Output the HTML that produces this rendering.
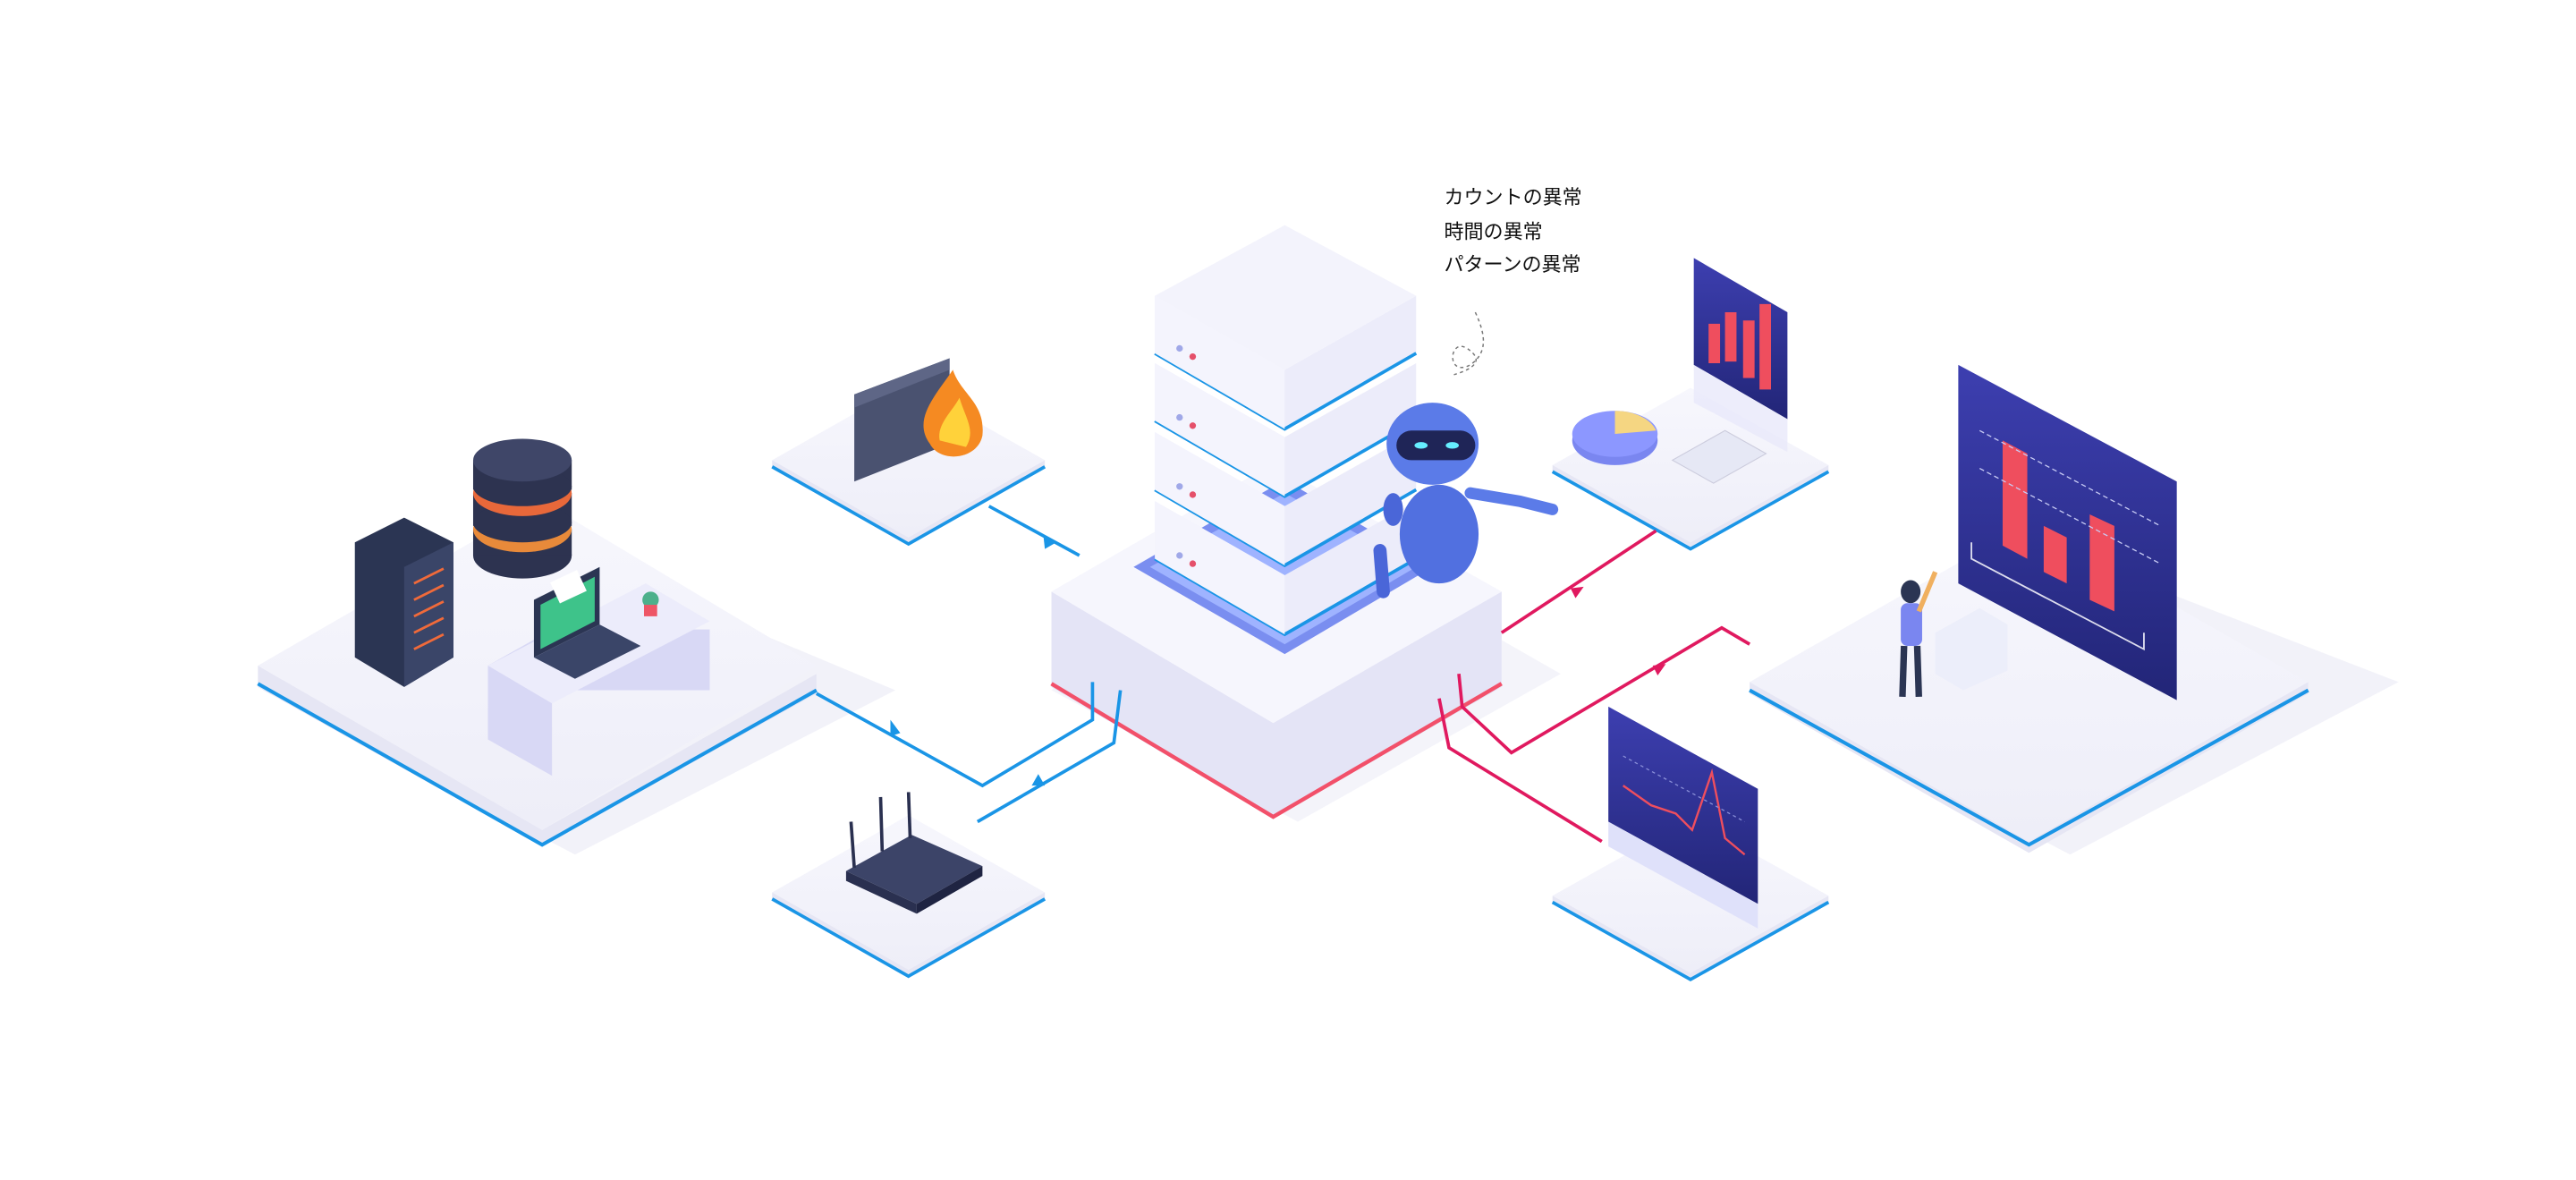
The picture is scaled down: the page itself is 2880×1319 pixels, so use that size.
<!DOCTYPE html>
<html><head><meta charset="utf-8">
<style>
html,body{margin:0;padding:0;background:#fff;width:2880px;height:1319px;overflow:hidden}
svg{display:block}
text{font-family:"Liberation Sans","Noto Sans CJK JP",sans-serif;fill:#111}
</style></head><body>
<svg width="2880" height="1319" viewBox="0 0 1568 718" preserveAspectRatio="none" xmlns="http://www.w3.org/2000/svg">
<defs>
<linearGradient id="top" x1="0" y1="0" x2="0" y2="1"><stop offset="0" stop-color="#f7f7fd"/><stop offset="1" stop-color="#eeeef8"/></linearGradient>
<linearGradient id="scr" x1="0" y1="0" x2="0" y2="1"><stop offset="0" stop-color="#3d3fb0"/><stop offset="1" stop-color="#222577"/></linearGradient>
</defs>
<!-- shadows -->
<path d="M330 330 L545 420 L350 520 L160 420Z" fill="#ededf7" opacity=".7"/>
<path d="M1240 330 L1460 415 L1260 520 L1070 420Z" fill="#ededf7" opacity=".7"/>
<path d="M775 310 L950 410 L790 500 L640 420Z" fill="#ededf7" opacity=".6"/>

<!-- Left big platform -->
<path d="M157 405 L330 505 L497 410 L497 422 L330 515 L157 418Z" fill="#e6e6f4"/>
<path d="M157 405 L330 305 L497 405 L330 505Z" fill="url(#top)"/>
<path d="M157 416 L330 514 L497 420" fill="none" stroke="#1a95e6" stroke-width="2.2"/>
<!-- desk -->
<path d="M297 405 L336 383 L432 383 L432 420 L336 420 L336 472 L297 450Z" fill="#d8d8f5"/>
<path d="M297 405 L393 355 L432 378 L336 428Z" fill="#ececfb"/>
<!-- server rack -->
<path d="M216 330 L246 315 L276 330 L276 400 L246 418 L216 400Z" fill="#2b3553"/>
<path d="M246 345 L276 330 L276 400 L246 418Z" fill="#3a4568"/>
<g stroke="#f06a3a" stroke-width="1.5"><line x1="252" y1="355" x2="270" y2="346"/><line x1="252" y1="365" x2="270" y2="356"/><line x1="252" y1="375" x2="270" y2="366"/><line x1="252" y1="385" x2="270" y2="376"/><line x1="252" y1="395" x2="270" y2="386"/></g>
<!-- database -->
<g>
<ellipse cx="318" cy="338" rx="30" ry="14" fill="#2d3350"/><rect x="288" y="322" width="60" height="16" fill="#2d3350"/>
<ellipse cx="318" cy="322" rx="30" ry="14" fill="#e88a3a"/>
<rect x="288" y="300" width="60" height="20" fill="#2d3350"/><ellipse cx="318" cy="318" rx="30" ry="12" fill="#2d3350"/>
<ellipse cx="318" cy="300" rx="30" ry="14" fill="#e8683a"/>
<rect x="288" y="280" width="60" height="18" fill="#2d3350"/><ellipse cx="318" cy="296" rx="30" ry="12" fill="#2d3350"/>
<ellipse cx="318" cy="280" rx="30" ry="13" fill="#3f4668"/>
</g>
<!-- laptop -->
<path d="M325 365 L365 345 L365 380 L325 400Z" fill="#2b3553"/>
<path d="M329 368 L362 351 L362 378 L329 395Z" fill="#3ec38a"/>
<path d="M325 400 L365 380 L390 393 L350 413Z" fill="#3a4568"/>
<rect x="337" y="350" width="18" height="14" fill="#fff" transform="rotate(-25 346 357)"/>
<circle cx="396" cy="365" r="5" fill="#4cb08b"/><rect x="392" y="368" width="8" height="7" fill="#e56"/>

<!-- center platform -->
<path d="M640 360 L775 282 L914 360 L914 418 L775 498 L640 418Z" fill="#f0f0fa"/>
<path d="M640 360 L775 440 L914 360 L914 418 L775 498 L640 418Z" fill="#e4e4f6"/>
<path d="M640 360 L775 282 L914 360 L775 440Z" fill="#f6f6fd"/>
<path d="M640 416 L775 497 L914 416" fill="none" stroke="#f2506a" stroke-width="2.4"/>
<!-- blue glow base -->
<path d="M690 345 L782 292 L872 345 L782 398Z" fill="#7a8ef0"/>
<path d="M700 345 L782 300 L862 345 L782 392Z" fill="#9fb3ff"/>
<!-- server stack -->
<g>
<path d="M703 305 L782 350 L862 305 L862 340 L782 386 L703 340Z" fill="#ececfa"/>
<path d="M703 340 L782 386 L862 340" fill="none" stroke="#1a95e6" stroke-width="2"/>
<path d="M703 305 L782 350 L782 386 L703 340Z" fill="#f4f4fd"/>
<path d="M703 263 L782 308 L862 263 L862 298 L782 344 L703 298Z" fill="#ececfa"/>
<path d="M703 298 L782 344 L862 298" fill="none" stroke="#1a95e6" stroke-width="2"/>
<path d="M703 263 L782 308 L782 344 L703 298Z" fill="#f4f4fd"/>
<path d="M703 221 L782 266 L862 221 L862 256 L782 302 L703 256Z" fill="#ececfa"/>
<path d="M703 256 L782 302 L862 256" fill="none" stroke="#1a95e6" stroke-width="2"/>
<path d="M703 221 L782 266 L782 302 L703 256Z" fill="#f4f4fd"/>
<path d="M703 180 L782 225 L862 180 L862 215 L782 261 L703 215Z" fill="#ececfa"/>
<path d="M703 215 L782 261 L862 215" fill="none" stroke="#1a95e6" stroke-width="2"/>
<path d="M703 180 L782 225 L782 261 L703 215Z" fill="#f4f4fd"/>
<path d="M703 180 L782 137 L862 180 L782 225Z" fill="#f3f3fc"/>
<g fill="#e5506a"><circle cx="726" cy="217" r="2"/><circle cx="726" cy="259" r="2"/><circle cx="726" cy="301" r="2"/><circle cx="726" cy="343" r="2"/></g>
<g fill="#a0a8e8"><circle cx="718" cy="212" r="2"/><circle cx="718" cy="254" r="2"/><circle cx="718" cy="296" r="2"/><circle cx="718" cy="338" r="2"/></g>
</g>
<!-- robot -->
<ellipse cx="872" cy="270" rx="28" ry="25" fill="#5b7be8"/>
<rect x="850" y="262" width="48" height="18" rx="9" fill="#1f2557"/>
<ellipse cx="865" cy="271" rx="4" ry="2" fill="#6ef"/><ellipse cx="884" cy="271" rx="4" ry="2" fill="#6ef"/>
<ellipse cx="876" cy="325" rx="24" ry="30" fill="#5170e0"/>
<path d="M895 300 L925 305 L945 310" stroke="#5b7be8" stroke-width="7" fill="none" stroke-linecap="round"/>
<ellipse cx="848" cy="310" rx="6" ry="10" fill="#4a66d8"/>
<path d="M840 335 L842 360" stroke="#4a66d8" stroke-width="8" stroke-linecap="round"/>

<!-- dashed squiggle -->
<path d="M898 190 C905 205 905 215 895 222 C880 230 882 205 893 212 C905 220 895 225 885 228" fill="none" stroke="#777" stroke-width=".8" stroke-dasharray="2 2"/>
<text x="879" y="124" font-size="12">カウントの異常</text>
<text x="879" y="145" font-size="12">時間の異常</text>
<text x="879" y="165" font-size="12">パターンの異常</text>

<!-- small platform: firewall -->
<path d="M470 280 L553 233 L636 280 L553 327Z" fill="url(#top)"/>
<path d="M470 280 L470 285 L553 332 L636 285 L636 280 L553 327Z" fill="#e6e6f4"/>
<path d="M470 284 L553 331 L636 284" fill="none" stroke="#1a95e6" stroke-width="2"/>
<path d="M520 240 L578 218 L578 270 L520 293Z" fill="#4a5270"/>
<path d="M520 240 L578 218 L578 225 L520 248Z" fill="#5e6686"/>
<path d="M566 270 C555 255 570 240 580 225 C585 240 600 245 598 265 C595 280 572 282 566 270Z" fill="#f58a22"/>
<path d="M572 268 C570 258 580 250 584 242 C588 255 594 262 588 272Z" fill="#ffd23a"/>

<!-- router platform -->
<path d="M470 543 L553 496 L636 543 L553 590Z" fill="url(#top)"/>
<path d="M470 543 L470 548 L553 595 L636 548 L636 543 L553 590Z" fill="#e6e6f4"/>
<path d="M470 547 L553 594 L636 547" fill="none" stroke="#1a95e6" stroke-width="2"/>
<path d="M515 530 L555 508 L598 527 L558 550Z" fill="#3c4468"/>
<path d="M515 530 L558 550 L558 556 L515 536Z" fill="#2a3050"/>
<path d="M558 550 L598 527 L598 533 L558 556Z" fill="#1f2442"/>
<g stroke="#2a3050" stroke-width="2"><line x1="520" y1="528" x2="518" y2="500"/><line x1="537" y1="518" x2="536" y2="485"/><line x1="554" y1="510" x2="553" y2="482"/></g>

<!-- top-right small platform -->
<path d="M945 283 L1029 236 L1113 283 L1029 330Z" fill="url(#top)"/>
<path d="M945 283 L945 288 L1029 335 L1113 288 L1113 283 L1029 330Z" fill="#e6e6f4"/>
<path d="M945 287 L1029 334 L1113 287" fill="none" stroke="#1a95e6" stroke-width="2"/>
<path d="M1031 157 L1088 190 L1088 255 L1031 222Z" fill="url(#scr)"/>
<path d="M1031 222 L1088 255 L1088 275 L1031 245Z" fill="#e8e8fa" opacity=".8"/>
<g fill="#ef4e5e"><rect x="1040" y="197" width="7" height="24"/><rect x="1050" y="190" width="7" height="30"/><rect x="1061" y="195" width="7" height="35"/><rect x="1071" y="185" width="7" height="52"/></g>
<ellipse cx="983" cy="268" rx="26" ry="15" fill="#7a86f0"/><ellipse cx="983" cy="264" rx="26" ry="14" fill="#8c97ff"/>
<path d="M983 264 L983 250 C995 250 1005 255 1008 262Z" fill="#f5d682"/>
<path d="M1018 280 L1050 262 L1075 276 L1043 294Z" fill="#e6e8f5" stroke="#ccd" stroke-width=".6"/>

<!-- bottom-right small platform -->
<path d="M945 545 L1029 498 L1113 545 L1029 592Z" fill="url(#top)"/>
<path d="M945 545 L945 550 L1029 597 L1113 550 L1113 545 L1029 592Z" fill="#e6e6f4"/>
<path d="M945 549 L1029 596 L1113 549" fill="none" stroke="#1a95e6" stroke-width="2"/>
<path d="M979 430 L1070 480 L1070 550 L979 500Z" fill="url(#scr)"/>
<path d="M979 500 L1070 550 L1070 565 L979 515Z" fill="#dfe1fa"/>
<path d="M988 478 L1005 490 L1020 495 L1030 505 L1042 470 L1050 510 L1062 520" fill="none" stroke="#ef4e5e" stroke-width="1.3"/>
<path d="M988 460 L1062 500" stroke="#8a8fd8" stroke-width=".7" stroke-dasharray="2 2"/>

<!-- right big platform -->
<path d="M1065 415 L1235 318 L1405 415 L1235 512Z" fill="url(#top)"/>
<path d="M1065 415 L1065 422 L1235 519 L1405 422 L1405 415 L1235 512Z" fill="#e6e6f4"/>
<path d="M1065 420 L1235 514 L1405 420" fill="none" stroke="#1a95e6" stroke-width="2.2"/>
<path d="M1192 222 L1325 293 L1325 426 L1192 355Z" fill="url(#scr)"/>
<g fill="#ef4e5e"><path d="M1219 268 L1234 276 L1234 340 L1219 332Z"/><path d="M1244 320 L1258 327 L1258 355 L1244 348Z"/><path d="M1272 313 L1287 320 L1287 372 L1272 365Z"/></g>
<g stroke="#c9ccf5" stroke-width=".7" stroke-dasharray="3 2"><path d="M1205 262 L1315 320"/><path d="M1205 285 L1315 343"/></g>
<path d="M1200 330 L1200 340 L1305 395 L1305 385" fill="none" stroke="#dde" stroke-width="1"/>
<path d="M1178 385 L1205 370 L1222 380 L1222 408 L1195 420 L1178 410Z" fill="#eceefa"/>
<ellipse cx="1163" cy="360" rx="6" ry="7" fill="#2b3553"/>
<rect x="1157" y="367" width="13" height="26" rx="4" fill="#7a86f0"/>
<path d="M1159 393 L1158 424 M1167 393 L1168 424" stroke="#2b3553" stroke-width="4"/>
<path d="M1168 372 L1178 348" stroke="#f0b060" stroke-width="3"/>

<!-- connectors blue -->
<g fill="none" stroke="#1a95e6" stroke-width="2">
<path d="M497 422 L598 478 L665 438 L665 415"/>
<path d="M595 500 L678 452 L682 420"/>
<path d="M602 308 L657 338"/>
</g>
<g fill="#1a95e6"><path d="M548 446 l-6 -8 l0 10z"/><path d="M636 478 l-8 0 l4 -7z"/><path d="M643 330 l-8 -5 l1 9z"/></g>
<!-- connectors red -->
<g fill="none" stroke="#e0195f" stroke-width="2">
<path d="M914 385 L1008 323"/>
<path d="M888 410 L890 430 L920 458 L1048 382 L1065 392"/>
<path d="M876 425 L882 455 L975 512"/>
</g>
<g fill="#e0195f"><path d="M956 358 l8 -1 l-5 7z"/><path d="M1006 405 l8 -1 l-5 7z"/></g>
</svg>
</body></html>
